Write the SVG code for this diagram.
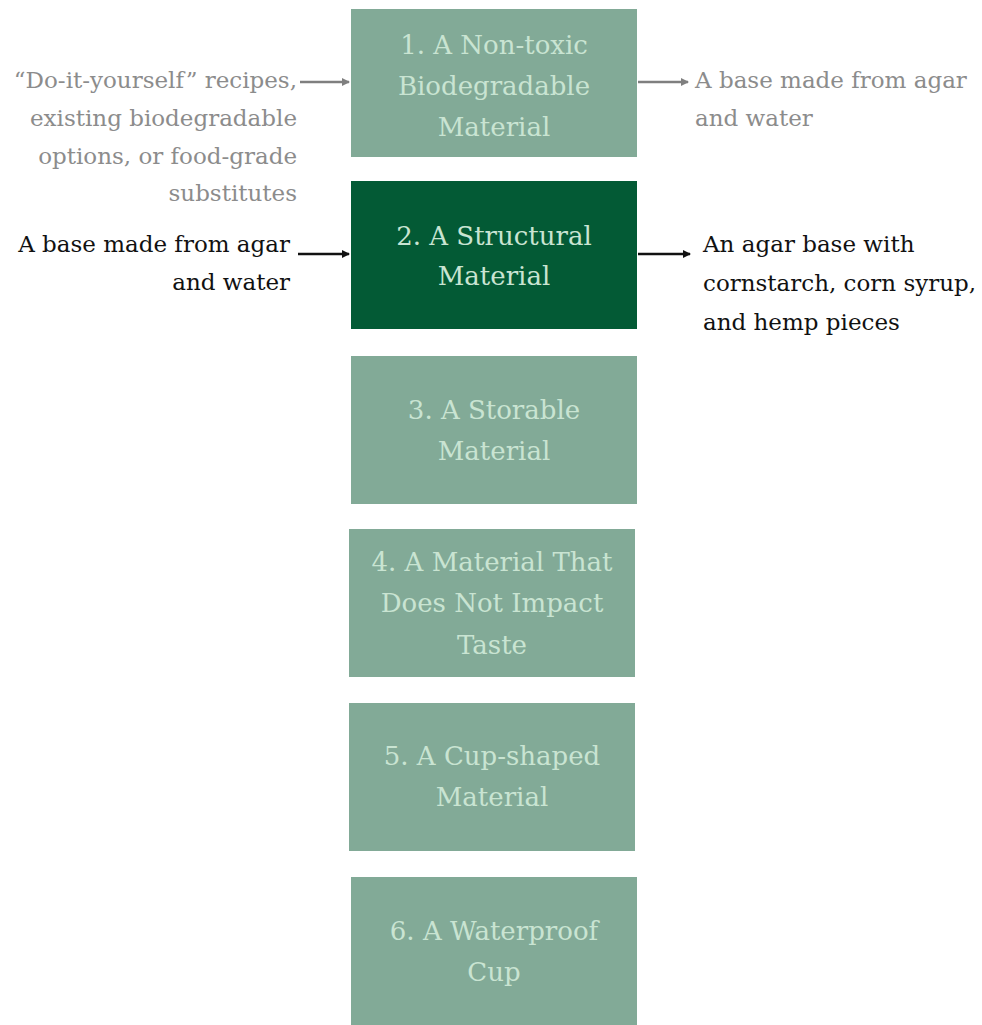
<svg xmlns="http://www.w3.org/2000/svg" width="982" height="1025" viewBox="0 0 982 1025">
<style>
.box{fill:#82aa97}
.dark{fill:#035a35}
.bt{font-family:"DejaVu Serif","Liberation Serif",serif;font-size:26px;fill:#c9e4d2;text-anchor:middle}
.st{font-family:"DejaVu Serif","Liberation Serif",serif;font-size:23px}
.gray{fill:#8c8c8c}
.blk{fill:#111}
.cg{stroke:#7f7f7f;stroke-width:2.5;fill:none}
.cb{stroke:#111;stroke-width:2.5;fill:none}
</style>
<defs>
<marker id="ag" markerWidth="8" markerHeight="8" refX="7" refY="4" orient="auto" markerUnits="userSpaceOnUse"><path d="M0,0L8,4L0,8z" fill="#7f7f7f"/></marker>
<marker id="ab" markerWidth="8" markerHeight="8" refX="7" refY="4" orient="auto" markerUnits="userSpaceOnUse"><path d="M0,0L8,4L0,8z" fill="#111"/></marker>
</defs>
<rect width="982" height="1025" fill="#fff"/>
<g id="node1"><rect class="box" x="351" y="9" width="286" height="148"/>
<text class="bt" x="494" y="54">1. A Non-toxic</text><text class="bt" x="494" y="95">Biodegradable</text><text class="bt" x="494" y="136">Material</text></g>
<g id="node2"><rect class="dark" x="351" y="181" width="286" height="148"/>
<text class="bt" x="494" y="245">2. A Structural</text><text class="bt" x="494" y="285">Material</text></g>
<g id="node3"><rect class="box" x="351" y="356" width="286" height="148"/>
<text class="bt" x="494" y="419">3. A Storable</text><text class="bt" x="494" y="460">Material</text></g>
<g id="node4"><rect class="box" x="349" y="529" width="286" height="148"/>
<text class="bt" x="492" y="571">4. A Material That</text><text class="bt" x="492" y="612">Does Not Impact</text><text class="bt" x="492" y="654">Taste</text></g>
<g id="node5"><rect class="box" x="349" y="703" width="286" height="148"/>
<text class="bt" x="492" y="765">5. A Cup-shaped</text><text class="bt" x="492" y="806">Material</text></g>
<g id="node6"><rect class="box" x="351" y="877" width="286" height="148"/>
<text class="bt" x="494" y="940">6. A Waterproof</text><text class="bt" x="494" y="981">Cup</text></g>
<g id="labels">
<text class="st gray" text-anchor="end" x="297" y="88">“Do-it-yourself” recipes,</text>
<text class="st gray" text-anchor="end" x="297" y="126">existing biodegradable</text>
<text class="st gray" text-anchor="end" x="297" y="164">options, or food-grade</text>
<text class="st gray" text-anchor="end" x="297" y="201">substitutes</text>
<text class="st gray" x="695" y="88">A base made from agar</text>
<text class="st gray" x="695" y="126">and water</text>
<text class="st blk" text-anchor="end" x="290" y="252">A base made from agar</text>
<text class="st blk" text-anchor="end" x="290" y="290">and water</text>
<text class="st blk" x="703" y="252">An agar base with</text>
<text class="st blk" x="703" y="291">cornstarch, corn syrup,</text>
<text class="st blk" x="703" y="330">and hemp pieces</text>
</g>
<g id="connectors">
<line class="cg" x1="300" y1="82" x2="349" y2="82" marker-end="url(#ag)"/>
<line class="cg" x1="638" y1="82" x2="688" y2="82" marker-end="url(#ag)"/>
<line class="cb" x1="298" y1="254" x2="349" y2="254" marker-end="url(#ab)"/>
<line class="cb" x1="638" y1="254" x2="690" y2="254" marker-end="url(#ab)"/>
</g>
</svg>
